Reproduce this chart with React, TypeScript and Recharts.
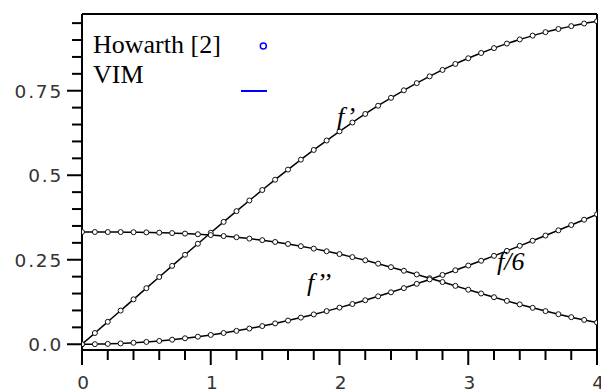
import React from 'react';
import { LineChart, Line, XAxis, YAxis, ReferenceLine, Legend } from 'recharts';

const eta = [0, 0.1, 0.2, 0.3, 0.4, 0.5, 0.6, 0.7, 0.8, 0.9, 1.0, 1.1, 1.2, 1.3, 1.4, 1.5, 1.6, 1.7, 1.8, 1.9, 2.0,
  2.1, 2.2, 2.3, 2.4, 2.5, 2.6, 2.7, 2.8, 2.9, 3.0, 3.1, 3.2, 3.3, 3.4, 3.5, 3.6, 3.7, 3.8, 3.9, 4.0];

const fPrime = [0, 0.03321, 0.06641, 0.0996, 0.13277, 0.16589, 0.19894, 0.23189, 0.26471, 0.29736, 0.32979,
  0.36195, 0.39378, 0.42524, 0.45627, 0.4868, 0.51676, 0.54611, 0.57477, 0.60268, 0.62977,
  0.65601, 0.68132, 0.70566, 0.72899, 0.75127, 0.77246, 0.79255, 0.81152, 0.82935, 0.84605,
  0.86163, 0.87609, 0.88946, 0.90177, 0.91305, 0.92333, 0.93267, 0.94112, 0.94872, 0.95552];

const fSecond = [0.33206, 0.33205, 0.33199, 0.33181, 0.33147, 0.33091, 0.33008, 0.32892, 0.32739, 0.32543, 0.32301,
  0.32007, 0.31659, 0.31253, 0.30787, 0.30259, 0.29667, 0.29011, 0.28293, 0.27514, 0.26675,
  0.25781, 0.24835, 0.23842, 0.22809, 0.21741, 0.20646, 0.1953, 0.18401, 0.17267, 0.16136,
  0.15016, 0.13913, 0.12835, 0.11788, 0.10778, 0.09809, 0.08886, 0.08013, 0.07192, 0.06424];

const fSixth = [0, 0.00028, 0.00111, 0.00249, 0.00443, 0.00692, 0.00996, 0.01355, 0.01769, 0.02237, 0.0276,
  0.03336, 0.03966, 0.04648, 0.05383, 0.06169, 0.07005, 0.07891, 0.08825, 0.09807, 0.10834,
  0.11906, 0.1302, 0.14176, 0.15372, 0.16605, 0.17875, 0.1918, 0.20517, 0.21884, 0.2328,
  0.24704, 0.26152, 0.27623, 0.29116, 0.30629, 0.32159, 0.33706, 0.35268, 0.36843, 0.38429];

const xTicks = [0, 0.2, 0.4, 0.6, 0.8, 1, 1.2, 1.4, 1.6, 1.8, 2, 2.2, 2.4, 2.6, 2.8, 3, 3.2, 3.4, 3.6, 3.8, 4];
const xMajorLabels: Record<string, string> = { '0': '0', '1': '1', '2': '2', '3': '3', '4': '4' };
const yTicks = [0, 0.05, 0.1, 0.15, 0.2, 0.25, 0.3, 0.35, 0.4, 0.45, 0.5, 0.55, 0.6, 0.65, 0.7, 0.75, 0.8, 0.85, 0.9, 0.95];
const yMajorLabels: Record<string, string> = { '0': '0.0', '0.25': '0.25', '0.5': '0.5', '0.75': '0.75' };

const legendNames = ['Howarth [2]', 'VIM'];
const curveLabels = [
  { text: 'f’', x: 337, y: 125 },
  { text: 'f’’', x: 307, y: 291 },
  { text: 'f/6', x: 497, y: 270 },
];

const Y_MIN = -0.017;
const Y_MAX = 0.977;

const data = eta.map((e, i) => ({ eta: e, fp: fPrime[i], fpp: fSecond[i], f6: fSixth[i] }));

const axisFont = { fontFamily: 'DejaVu Sans', fontSize: 18.5, letterSpacing: 1.8, fill: '#333' };

const YTick = (props: any) => {
  const { x, y, payload } = props;
  const label = yMajorLabels[String(payload.value)];
  const major = label !== undefined;
  return (
    <g>
      <line x1={x - (major ? 15 : 10)} x2={x} y1={y} y2={y} stroke="#000" strokeWidth={2} />
      {major && (
        <text x={x - 19} y={y + 7} textAnchor="end" style={axisFont}>{label}</text>
      )}
    </g>
  );
};

const XTick = (props: any) => {
  const { x, y, payload } = props;
  const label = xMajorLabels[String(payload.value)];
  const major = label !== undefined;
  return (
    <g>
      <line x1={x} x2={x} y1={y} y2={y + (major ? 15 : 10)} stroke="#000" strokeWidth={2} />
      {major && (
        <text x={x + 2} y={y + 38.5} textAnchor="middle" style={axisFont}>{label}</text>
      )}
    </g>
  );
};

const LegendContent = () => (
  <svg width={601} height={389} style={{ position: 'absolute', left: 0, top: 0, overflow: 'visible' }}>
    <text x={93} y={52.7} style={{ fontFamily: 'Liberation Serif', fontSize: 26, fill: '#000' }}>{legendNames[0]}</text>
    <text x={93} y={83.3} style={{ fontFamily: 'Liberation Serif', fontSize: 26, fill: '#000' }}>{legendNames[1]}</text>
    <circle cx={263.3} cy={46} r={3} fill="none" stroke="#0000ff" strokeWidth={1.5} />
    <line x1={241} x2={267} y1={91} y2={91} stroke="#0000ff" strokeWidth={2} />
    {curveLabels.map((c) => (
      <text key={c.text} x={c.x} y={c.y}
        style={{ fontFamily: 'Liberation Serif', fontStyle: 'italic', fontSize: 26, fill: '#000' }}>{c.text}</text>
    ))}
  </svg>
);

const circleDot = (props: any) => {
  const { cx, cy, key } = props;
  return <circle key={key} cx={cx} cy={cy} r={2.5} fill="#fff" stroke="#111" strokeWidth={1} />;
};

export default function App() {
  return (
    <div style={{ position: 'absolute', left: 0, top: 0, width: 601, height: 389, background: '#fff' }}>
      <LineChart width={601} height={389} data={data} margin={{ top: 14, right: 4, bottom: 0, left: 0 }}>
        <XAxis dataKey="eta" type="number" domain={[0, 4]} ticks={xTicks} allowDataOverflow
          height={39} tickSize={0} tickMargin={0} tickLine={false} interval={0}
          axisLine={{ stroke: '#000', strokeWidth: 2 }} tick={<XTick />} />
        <YAxis type="number" domain={[Y_MIN, Y_MAX]} ticks={yTicks} allowDataOverflow
          width={82} tickSize={0} tickMargin={0} tickLine={false} interval={0}
          axisLine={{ stroke: '#000', strokeWidth: 2 }} tick={<YTick />} />
        <ReferenceLine x={4} stroke="#000" strokeWidth={2} />
        <ReferenceLine y={Y_MAX} stroke="#000" strokeWidth={2} />
        <Legend layout="horizontal" verticalAlign="middle" align="center" content={<LegendContent />}
          wrapperStyle={{ position: 'absolute', left: 0, top: 0, width: 601, height: 389, pointerEvents: 'none' }} />
        <Line dataKey="fp" name="Howarth f'" stroke="none" dot={circleDot} isAnimationActive={false} legendType="none" />
        <Line dataKey="fpp" name="Howarth f''" stroke="none" dot={circleDot} isAnimationActive={false} legendType="none" />
        <Line dataKey="f6" name="Howarth f/6" stroke="none" dot={circleDot} isAnimationActive={false} legendType="none" />
        <Line dataKey="fp" name="VIM f'" type="monotone" stroke="#000" strokeWidth={1.5} dot={false} isAnimationActive={false} legendType="none" />
        <Line dataKey="fpp" name="VIM f''" type="monotone" stroke="#000" strokeWidth={1.5} dot={false} isAnimationActive={false} legendType="none" />
        <Line dataKey="f6" name="VIM f/6" type="monotone" stroke="#000" strokeWidth={1.5} dot={false} isAnimationActive={false} legendType="none" />
      </LineChart>
    </div>
  );
}
